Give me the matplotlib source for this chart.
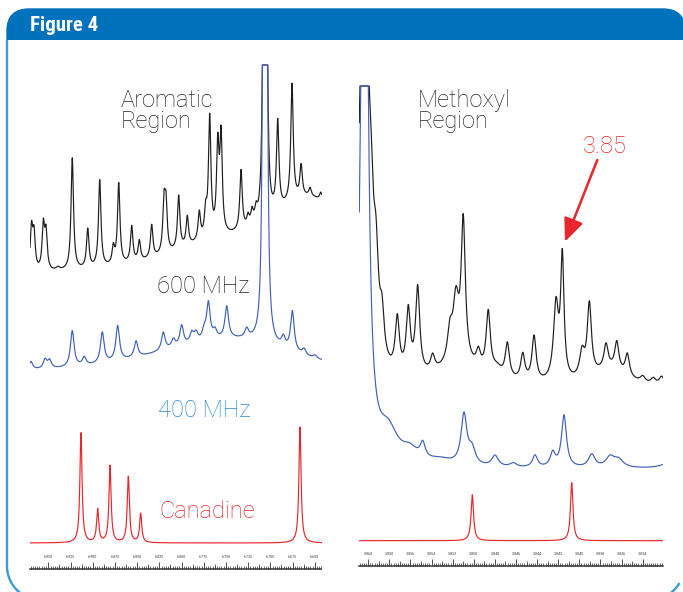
import numpy as np
import matplotlib
matplotlib.use('Agg')
import matplotlib.pyplot as plt
from matplotlib.patches import FancyBboxPatch, Rectangle
from matplotlib.ticker import FixedLocator, MultipleLocator

# ======================= DATA =======================
# Aromatic region axis (ppm)
arom_tick_values = [6.950, 6.925, 6.900, 6.875, 6.850, 6.825, 6.800, 6.775,
                    6.750, 6.725, 6.700, 6.675, 6.650]
arom_tick_labels = ['6.950', '6.925', '6.900', '6.875', '6.850', '6.825', '6.800',
                    '6.775', '6.750', '6.725', '6.700', '6.675', '6.650']
arom_minor_step = 0.0025
arom_xlim = (6.9706, 6.6424)

# Methoxyl region axis (ppm)
meth_tick_values = [3.860, 3.858, 3.856, 3.854, 3.852, 3.850, 3.848, 3.846,
                    3.844, 3.842, 3.840, 3.838, 3.836, 3.834]
meth_tick_labels = ['3.860', '3.858', '3.856', '3.854', '3.852', '3.850', '3.848',
                    '3.846', '3.844', '3.842', '3.840', '3.838', '3.836', '3.834']
meth_minor_step = 0.0002
meth_xlim = (3.86085, 3.83204)

# --- Aromatic, 600 MHz (peak position ppm, height, half width ppm)
arom600_ppm = [6.9689, 6.9661, 6.9556, 6.9526, 6.9391, 6.9230, 6.9056, 6.8921,
               6.8768, 6.8707, 6.8561, 6.8475, 6.8336, 6.8197, 6.8175, 6.8032,
               6.7935, 6.7800, 6.7728, 6.7683, 6.7592, 6.7555, 6.7330, 6.7251,
               6.7206, 6.7161, 6.7077, 6.7043, 6.6917, 6.6756, 6.6654, 6.6553,
               6.6432, 6.6553, 6.7679]
arom600_height = [42, 35, 44, 36, 3, 112, 39, 87,
                  17, 81, 36, 20, 33, 48, 45, 53,
                  29, 28, 24, 119, 85, 95, 60, 10,
                  13, 12, 280, 280, 88, 117, 31, 8,
                  8, 75, 20]
arom600_hwhm = [0.00165, 0.00165, 0.00165, 0.00165, 0.00250, 0.00165, 0.00165, 0.00165,
                0.00165, 0.00165, 0.00165, 0.00165, 0.00165, 0.00165, 0.00165, 0.00165,
                0.00165, 0.00165, 0.00165, 0.00165, 0.00165, 0.00165, 0.00165, 0.00165,
                0.00165, 0.00165, 0.00135, 0.00135, 0.00165, 0.00165, 0.00165, 0.00165,
                0.00165, 0.0619, 0.0676]

# --- Aromatic, 400 MHz
arom400_ppm = [6.9695, 6.9537, 6.9486, 6.9230, 6.9095, 6.8892, 6.8719, 6.8512,
               6.8205, 6.8092, 6.7998, 6.7885, 6.7837, 6.7747, 6.7698, 6.7623,
               6.7491, 6.7266, 6.7077, 6.7043, 6.6854, 6.6752, 6.6621, 6.6497,
               6.7322, 6.8015]
arom400_height = [8, 9, 8, 36, 8, 31, 35, 16,
                  18, 8, 20, 10, 9, 9, 37, 8,
                  32, 9, 465, 465, 10, 40, 6, 3,
                  28, 12]
arom400_hwhm = [0.00248] * 18 + [0.00135, 0.00135] + [0.00248] * 4 + [0.0788, 0.0788]

# --- Aromatic, canadine reference
aromcan_ppm = [6.9132, 6.8944, 6.8805, 6.8599, 6.8460, 6.6666]
aromcan_height = [110, 33, 77, 66, 29, 116]
aromcan_hwhm = [0.00146] * 6

# --- Methoxyl, 600 MHz
meth600_ppm = [3.86041, 3.85974, 3.85927, 3.85870, 3.85725, 3.85621, 3.85532, 3.85390,
               3.85226, 3.85169, 3.85100, 3.84957, 3.84863, 3.84780, 3.84682, 3.84536,
               3.84429, 3.84221, 3.84161, 3.83974, 3.83905, 3.83747, 3.83645, 3.83545,
               3.83399, 3.83299, 3.83219, 3.85131, 3.83709]
meth600_height = [600, 90, 80, 40, 54, 63, 86, 15,
                  30, 60, 140, 16, 60, 8, 34, 26,
                  45, 75, 120, 25, 72, 24, 28, 22,
                  6, 6, 9, 20, 18]
meth600_hwhm = [0.000379, 0.000284, 0.000284, 0.000237, 0.000237, 0.000237, 0.000237, 0.000237,
                0.000284, 0.000332, 0.000237, 0.000237, 0.000237, 0.000569, 0.000237, 0.000237,
                0.000237, 0.000284, 0.000190, 0.000284, 0.000237, 0.000237, 0.000237, 0.000237,
                0.000284, 0.000284, 0.000284, 0.003318, 0.002085]

# --- Methoxyl, 400 MHz
meth400_ppm = [3.86036, 3.85813, 3.85605, 3.85484, 3.85320, 3.85093, 3.85017, 3.84799,
               3.84626, 3.84420, 3.84252, 3.84145, 3.83882, 3.83709, 3.83630, 3.83140]
meth400_height = [1000, 32, 12, 15, 6, 50, 15, 11,
                  4, 12, 14, 52, 13, 10, 8, 6]
meth400_hwhm = [0.000284, 0.001137, 0.000948, 0.000284, 0.001422, 0.000332, 0.000379, 0.000379,
                0.000379, 0.000284, 0.000284, 0.000284, 0.000379, 0.000474, 0.000569, 0.000948]

# --- Methoxyl, canadine reference
methcan_ppm = [3.85014, 3.84072]
methcan_height = [46, 58]
methcan_hwhm = [0.000142, 0.000142]

# ======================= STYLE / LAYOUT =======================
W, H = 683, 592
C_BLACK = '#1e1e1e'
C_TEXT = '#262626'
C_BLUE_LINE = '#3f62b8'
C_BLUE_TEXT = '#2d86cc'
C_RED = '#e8262d'
C_HEADER = '#0071bb'
C_BORDER = '#3f9bd8'
LABEL_FONT = ['Roboto', 'DejaVu Sans']
NARROW_FONT = ['Liberation Sans Narrow', 'Roboto Condensed', 'Liberation Sans', 'DejaVu Sans']


def spectrum(x, ppm, height, hwhm):
    p = np.asarray(ppm)[None, :]
    h = np.asarray(height, dtype=float)[None, :]
    w = np.asarray(hwhm)[None, :]
    return (h / (1.0 + ((x[:, None] - p) / w) ** 2)).sum(axis=1)


fig = plt.figure(figsize=(W / 100, H / 100), dpi=100)
fig.patch.set_facecolor('white')

# ---------- background frame (pixel coordinates) ----------
bg = fig.add_axes([0, 0, 1, 1], zorder=0)
bg.set_xlim(0, W)
bg.set_ylim(H, 0)
bg.axis('off')
header = FancyBboxPatch((7, 9), 678, 80, boxstyle='round,pad=0,rounding_size=22',
                        fc=C_HEADER, ec=C_HEADER, lw=1.0)
bg.add_patch(header)
bg.add_patch(Rectangle((5, 40), 690, 70, fc='white', ec='none'))

# frame outline: left side and rounded bottom-left corner; the bottom-right
# corner only shows as an arc in the lower right of the image
R_CORNER = 34
t_left = np.linspace(np.pi, np.pi / 2, 40)
fx = np.concatenate([[7], 7 + R_CORNER + R_CORNER * np.cos(t_left)])
fy = np.concatenate([[40], 600 - R_CORNER + R_CORNER * np.sin(t_left)])
bg.plot(fx, fy, color=C_BORDER, lw=1.7, solid_capstyle='butt')
t_right = np.linspace(np.pi / 2, np.pi / 6, 30)
bg.plot(650 + R_CORNER * np.cos(t_right), 566 + R_CORNER * np.sin(t_right),
        color=C_BORDER, lw=1.7, solid_capstyle='butt')
bg.text(30, 31, 'Figure 4', color='white', fontsize=15, fontweight='bold',
        family=NARROW_FONT, ha='left', va='baseline')


# ---------- spectra panels ----------
def make_panel(rect, xlim, bottom_px, top_px, tick_vals, tick_labs, minor_step):
    ax = fig.add_axes(rect, zorder=2)
    ax.patch.set_alpha(0)
    ax.set_xlim(*xlim)
    ax.set_ylim(0, bottom_px - top_px)
    for s in ('left', 'right', 'top'):
        ax.spines[s].set_visible(False)
    ax.spines['bottom'].set_color('#333333')
    ax.spines['bottom'].set_linewidth(1.1)
    ax.yaxis.set_visible(False)
    ax.xaxis.set_major_locator(FixedLocator(tick_vals))
    ax.set_xticklabels(tick_labs, family=NARROW_FONT)
    ax.xaxis.set_minor_locator(MultipleLocator(minor_step))
    ax.tick_params(axis='x', which='major', direction='in', length=5, width=0.6,
                   pad=-9.8, labelsize=3.0, color='#333333', labelcolor='#444444')
    ax.tick_params(axis='x', which='minor', direction='in', length=2, width=0.5,
                   color='#333333')
    half = [(a + b) / 2 for a, b in zip(tick_vals[:-1], tick_vals[1:])]
    sec = ax.secondary_xaxis('bottom')
    sec.set_xticks(half)
    sec.tick_params(direction='in', length=3.3, width=0.5, labelbottom=False,
                    color='#333333')
    sec.spines['bottom'].set_visible(False)
    return ax


axL = make_panel([30 / W, 23 / H, 291.5 / W, 509 / H], arom_xlim, 569, 60,
                 arom_tick_values, arom_tick_labels, arom_minor_step)
axR = make_panel([359.3 / W, 26 / H, 304 / W, 506 / H], meth_xlim, 566, 60,
                 meth_tick_values, meth_tick_labels, meth_minor_step)

# vertical offsets of the stacked traces (pixels above the ruler) and clip level
L_OFF_600, L_OFF_400, L_OFF_CAN, L_CLIP = 291, 194, 26, 504
R_OFF_600, R_OFF_400, R_OFF_CAN, R_CLIP = 176, 97, 25.3, 480

xl = np.linspace(arom_xlim[0], arom_xlim[1], 5000)
xr = np.linspace(meth_xlim[0], meth_xlim[1], 5000)

axL.plot(xl, np.minimum(L_OFF_600 + spectrum(xl, arom600_ppm, arom600_height, arom600_hwhm), L_CLIP),
         color=C_BLACK, lw=0.85)
axL.plot(xl, np.minimum(L_OFF_400 + spectrum(xl, arom400_ppm, arom400_height, arom400_hwhm), L_CLIP),
         color=C_BLUE_LINE, lw=0.85)
axL.plot(xl, L_OFF_CAN + spectrum(xl, aromcan_ppm, aromcan_height, aromcan_hwhm),
         color=C_RED, lw=0.85)

axR.plot(xr, np.minimum(R_OFF_600 + spectrum(xr, meth600_ppm, meth600_height, meth600_hwhm), R_CLIP),
         color=C_BLACK, lw=0.85)
axR.plot(xr, np.minimum(R_OFF_400 + spectrum(xr, meth400_ppm, meth400_height, meth400_hwhm), R_CLIP),
         color=C_BLUE_LINE, lw=0.85)
axR.plot(xr, R_OFF_CAN + spectrum(xr, methcan_ppm, methcan_height, methcan_hwhm),
         color=C_RED, lw=0.85)

# ---------- labels overlay (pixel coordinates) ----------
ov = fig.add_axes([0, 0, 1, 1], zorder=5)
ov.patch.set_alpha(0)
ov.set_xlim(0, W)
ov.set_ylim(H, 0)
ov.axis('off')

tkw = dict(fontsize=17, fontweight='light', family=LABEL_FONT, ha='left', va='baseline')
ov.text(121, 128.3, 'Aromatic\nRegion', color=C_TEXT, linespacing=0.9, **tkw)
ov.text(418, 128.3, 'Methoxyl\nRegion', color=C_TEXT, linespacing=0.9, **tkw)
ov.text(157, 293.3, '600 MHz', color=C_TEXT, **tkw)
ov.text(158, 416.7, '400 MHz', color=C_BLUE_TEXT, **tkw)
ov.text(159, 518.3, 'Canadine', color=C_RED, **tkw)
ov.text(583, 152.7, '3.85', color=C_RED, **tkw)
ov.annotate('', xy=(565, 241.7), xytext=(597.3, 160),
            arrowprops=dict(arrowstyle='-|>,head_length=0.7,head_width=0.3',
                            color=C_RED, lw=1.8, mutation_scale=20,
                            shrinkA=0, shrinkB=0))

fig.savefig('out.png', dpi=100)
